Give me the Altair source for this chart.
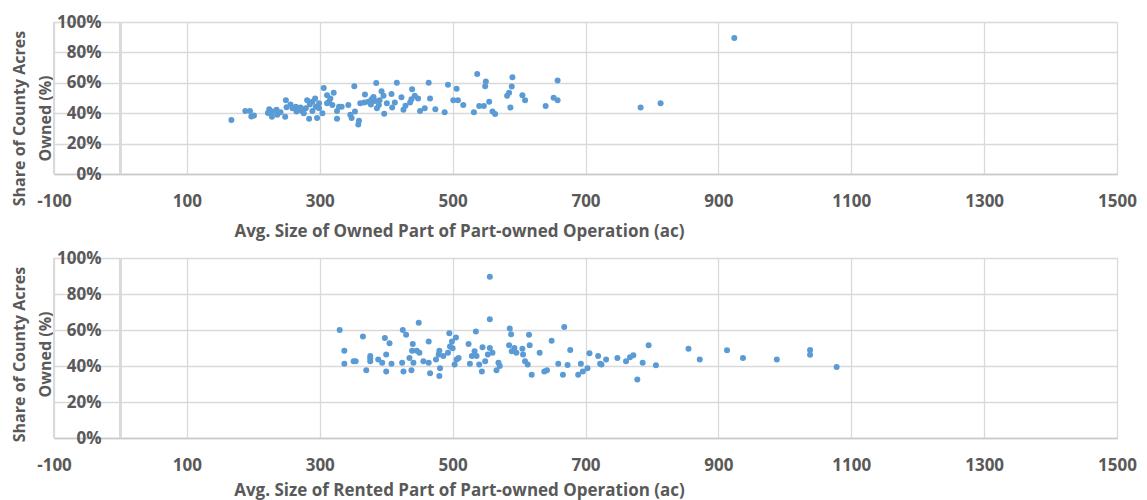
import altair as alt
import pandas as pd

# Top panel: avg size of owned part (ac) vs share of county acres owned (%)
owned_size = [167, 188, 195, 197, 201, 224, 222, 229, 235, 236, 228, 241, 248, 249, 250,
              256, 259, 264, 269, 274, 279, 281, 285, 289, 284, 293, 294, 296, 299, 304,
              306, 311, 314, 316, 321, 319, 326, 326, 329, 333, 343, 346, 348, 352, 353,
              358, 359, 361, 368, 367, 373, 378, 383, 385, 386, 389, 393, 396, 397, 401,
              408, 409, 413, 416, 423, 426, 429, 436, 439, 443, 448, 451, 458, 464, 466,
              474, 488, 493, 501, 506, 508, 516, 532, 537, 540, 547, 549, 550, 555, 560,
              564, 582, 585, 587, 589, 590, 605, 609, 640, 652, 658, 658, 783, 813, 924,
              265, 271, 276, 289, 299, 311, 377, 381, 438, 390]
owned_share = [35.5, 41.5, 41.5, 37.9, 38.5, 42.6, 40.2, 41.1, 42.2, 38.9, 37.6, 40.6, 37.6, 48.6, 43.9,
               45.8, 43.2, 44.3, 42.2, 41.1, 43.2, 48.6, 45.8, 41.5, 36.3, 49.7, 44.3, 36.8, 43.2, 40.0,
               56.6, 51.8, 47.5, 49.7, 53.5, 45.4, 41.5, 36.3, 44.3, 44.3, 45.4, 38.9, 36.8, 57.8, 41.1,
               32.5, 35.1, 46.5, 52.3, 47.1, 47.5, 49.2, 48.0, 59.8, 43.2, 45.4, 54.4, 51.4, 39.6, 46.5,
               52.7, 43.7, 47.1, 60.0, 50.5, 42.2, 44.9, 47.1, 55.7, 51.4, 49.7, 41.5, 43.2, 60.0, 49.7,
               42.6, 40.6, 58.7, 48.6, 56.1, 48.6, 45.4, 40.6, 65.8, 44.7, 44.7, 57.8, 60.9, 47.5, 41.1,
               39.4, 51.4, 53.5, 43.7, 57.6, 63.7, 51.8, 48.6, 44.7, 50.1, 48.6, 61.5, 43.7, 46.5, 89.5,
               41.1, 43.7, 40.0, 47.5, 46.5, 46.5, 45.8, 50.7, 49.2, 48.6]

# Bottom panel: avg size of rented part (ac) vs share of county acres owned (%)
rented_size = [330, 337, 337, 351, 354, 365, 370, 376, 376, 376, 388, 394, 398, 400, 400,
               405, 408, 424, 425, 426, 430, 435, 438, 439, 440, 441, 449, 446, 450, 456,
               464, 464, 466, 475, 479, 480, 481, 480, 486, 493, 495, 496, 499, 500, 503,
               505, 506, 509, 524, 526, 529, 533, 535, 536, 540, 544, 545, 549, 553, 556,
               556, 560, 566, 569, 571, 585, 586, 588, 589, 593, 596, 605, 606, 609, 613,
               615, 616, 619, 631, 638, 642, 649, 659, 666, 668, 673, 677, 689, 693, 696,
               703, 706, 719, 722, 724, 731, 748, 761, 767, 772, 778, 786, 795, 806, 855,
               872, 913, 937, 988, 1038, 1038, 1078, 556]
rented_share = [60.0, 48.5, 41.3, 42.7, 42.7, 56.4, 37.6, 45.5, 42.7, 44.2, 43.6, 41.8, 55.5, 46.4, 36.9,
                52.7, 41.3, 41.8, 60.0, 36.9, 57.3, 44.5, 37.6, 48.5, 52.2, 41.8, 64.0, 48.5, 47.3, 42.7,
                53.6, 41.8, 36.0, 43.6, 46.4, 48.5, 38.7, 34.4, 45.5, 47.3, 58.2, 50.9, 53.6, 49.8, 40.9,
                55.8, 43.6, 44.5, 52.2, 41.3, 45.5, 48.2, 59.1, 45.5, 40.9, 36.9, 50.4, 42.7, 46.4, 66.0,
                50.0, 47.3, 37.6, 41.8, 40.0, 51.5, 60.9, 57.6, 48.2, 50.0, 47.3, 49.6, 46.4, 42.7, 40.9,
                57.3, 51.5, 35.1, 47.3, 36.9, 37.6, 54.0, 41.3, 35.1, 61.6, 40.5, 48.9, 35.1, 41.3, 36.9,
                38.7, 47.1, 45.5, 41.3, 40.9, 43.6, 44.5, 42.7, 44.9, 46.0, 32.5, 41.8, 51.5, 40.4, 49.6,
                43.6, 48.7, 44.5, 43.6, 48.9, 46.3, 39.4, 89.6]

x_ticks = [-100, 100, 300, 500, 700, 900, 1100, 1300, 1500]
y_ticks = [0, 20, 40, 60, 80, 100]
y_title = ["Share of County Acres", "Owned (%)"]
x_title_top = "Avg. Size of Owned Part of Part-owned Operation (ac)"
x_title_bottom = "Avg. Size of Rented Part of Part-owned Operation (ac)"

FONT = "Open Sans"
TXT = "#595959"
GRID = "#d9d9d9"
DOT = "#5B9BD5"
W = 1063


def panel(xs, ys, xtitle, h, title_y):
    df = pd.DataFrame({"x": xs, "y": ys})
    xax = alt.Axis(values=x_ticks, grid=True, gridColor=GRID, gridWidth=1.3,
                   ticks=False, tickSize=0, domain=True, domainColor="#c8c8c8", domainWidth=1.3,
                   labelExpr="'' + datum.value", labelFlush=False, labelOverlap=False,
                   labelFont=FONT, labelFontSize=17, labelFontWeight="bold", labelColor=TXT,
                   labelPadding=19, title=xtitle, titleFont=FONT, titleFontSize=17,
                   titleFontWeight="bold", titleColor=TXT, titleX=405, titleY=title_y,
                   titleBaseline="middle", titleAlign="center", titleAnchor="start")
    yax = alt.Axis(values=y_ticks, grid=True, gridColor=GRID, gridWidth=1.3,
                   ticks=False, tickSize=0, domain=False, labelFlush=False, labelOverlap=False,
                   labelExpr="datum.value + '%'", labelFont=FONT, labelFontSize=17,
                   labelFontWeight="bold", labelColor=TXT, labelAlign="right",
                   labelPadding=-47, labelBaseline="middle",
                   title=y_title, titleFont=FONT, titleFontSize=16, titleFontWeight="bold",
                   titleColor=TXT, titleX=-35, titleY=96, titleBaseline="middle",
                   titleAlign="center", titleAnchor="start", titleLineHeight=26, titleAngle=270)
    xs_ = alt.Scale(domain=[-100, 1500], nice=False)
    ys_ = alt.Scale(domain=[0, 100], nice=False)
    zero_line = alt.Chart(df).mark_rule(color=GRID, strokeWidth=1.3).encode(
        x=alt.datum(0, scale=xs_, axis=xax, type="quantitative"))
    left_line = alt.Chart(df).mark_rule(color=GRID, strokeWidth=1.3).encode(
        x=alt.datum(-100, scale=xs_, axis=xax, type="quantitative"))
    pts = alt.Chart(df).mark_circle(size=36, color=DOT, opacity=1).encode(
        x=alt.X("x:Q", scale=xs_, axis=xax),
        y=alt.Y("y:Q", scale=ys_, axis=yax))
    return alt.layer(zero_line, left_line, pts).properties(width=W, height=h)


top = panel(owned_size, owned_share, x_title_top, 152, 57.5)
bottom = panel(rented_size, rented_share, x_title_bottom, 180, 52)

chart = alt.vconcat(top, bottom, spacing=8).properties(
    padding={"left": 2, "top": 4, "right": 0, "bottom": 2}
).configure_view(stroke=None).configure(background="white")

chart.save("out.html", embed_options={"renderer": "svg", "actions": False})
